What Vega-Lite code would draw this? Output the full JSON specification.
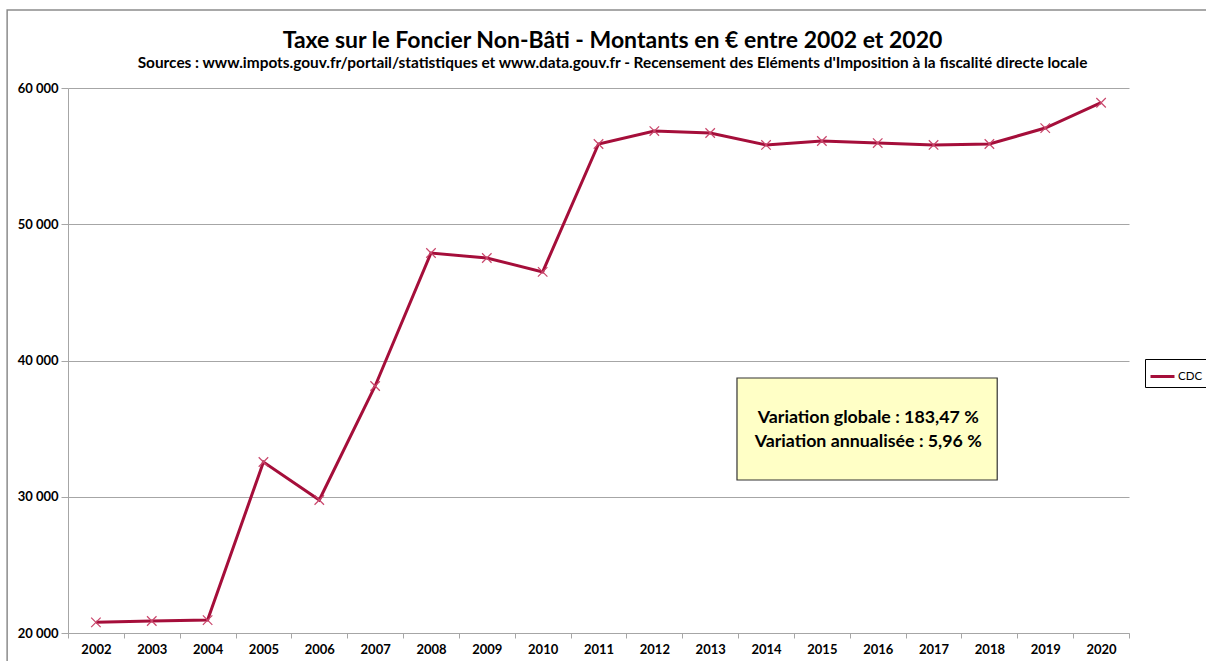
{
  "$schema": "https://vega.github.io/schema/vega-lite/v6.json",
  "width": 1061,
  "height": 545,
  "autosize": {"type": "none"},
  "padding": {"left": 68, "top": 88, "right": 77, "bottom": 28},
  "background": "white",
  "title": {
    "text": "Taxe sur le Foncier Non-Bâti - Montants en € entre 2002 et 2020",
    "subtitle": "Sources : www.impots.gouv.fr/portail/statistiques et www.data.gouv.fr - Recensement des Eléments d'Imposition à la fiscalité directe locale",
    "frame": "group",
    "font": "Lato",
    "fontSize": 23,
    "fontWeight": "bold",
    "color": "black",
    "subtitleFont": "Lato",
    "subtitleFontSize": 15.4,
    "subtitleFontWeight": "bold",
    "subtitleColor": "black",
    "subtitlePadding": 3,
    "anchor": "middle",
    "dx": 14,
    "offset": -62
  },
  "config": {
    "view": {"stroke": null},
    "font": "Lato"
  },
  "datasets": {
    "serie": [
      {"annee": "2002", "montant": 20780},
      {"annee": "2003", "montant": 20880},
      {"annee": "2004", "montant": 20950},
      {"annee": "2005", "montant": 32550},
      {"annee": "2006", "montant": 29760},
      {"annee": "2007", "montant": 38130},
      {"annee": "2008", "montant": 47890},
      {"annee": "2009", "montant": 47520},
      {"annee": "2010", "montant": 46500},
      {"annee": "2011", "montant": 55890},
      {"annee": "2012", "montant": 56840},
      {"annee": "2013", "montant": 56700},
      {"annee": "2014", "montant": 55820},
      {"annee": "2015", "montant": 56110},
      {"annee": "2016", "montant": 55960},
      {"annee": "2017", "montant": 55820},
      {"annee": "2018", "montant": 55890},
      {"annee": "2019", "montant": 57060},
      {"annee": "2020", "montant": 58920}
    ],
    "cadre": [
      {"x0": 2000.41, "x1": 2024, "y0": 14000, "y1": 65725}
    ],
    "encadre": [
      {"x0": 2013.48, "x1": 2018.14, "y0": 31229, "y1": 38716}
    ],
    "textes": [
      {"x": 2015.83, "y": 35800, "texte": "Variation globale : 183,47 %"},
      {"x": 2015.83, "y": 34030, "texte": "Variation annualisée : 5,96 %"}
    ]
  },
  "layer": [
    {
      "layer": [
        {
          "data": {"name": "cadre"},
          "mark": {"type": "rect", "fill": null, "stroke": "#8c8c8c", "strokeWidth": 1.5, "clip": false},
          "encoding": {
            "x": {"field": "x0", "type": "quantitative", "scale": {"domain": [2001.5, 2020.5], "zero": false, "nice": false}, "axis": null},
            "x2": {"field": "x1"},
            "y": {"field": "y0", "type": "quantitative"},
            "y2": {"field": "y1"}
          }
        },
        {
          "data": {"name": "encadre"},
          "mark": {"type": "rect", "fill": "#FFFFC6", "stroke": "#333333", "strokeWidth": 1.2},
          "encoding": {
            "x": {"field": "x0", "type": "quantitative", "axis": null},
            "x2": {"field": "x1"},
            "y": {"field": "y0", "type": "quantitative"},
            "y2": {"field": "y1"}
          }
        },
        {
          "data": {"name": "textes"},
          "mark": {"type": "text", "font": "Lato", "fontSize": 17.8, "fontWeight": "bold", "color": "black", "align": "center", "baseline": "middle"},
          "encoding": {
            "x": {"field": "x", "type": "quantitative", "axis": null},
            "y": {"field": "y", "type": "quantitative"},
            "text": {"field": "texte"}
          }
        }
      ]
    },
    {
      "data": {"name": "serie"},
      "layer": [
        {
          "mark": {"type": "line", "strokeWidth": 3, "interpolate": "linear"},
          "encoding": {
            "x": {
              "field": "annee",
              "type": "ordinal",
              "bandPosition": 0.5,
              "scale": {"type": "band", "paddingInner": 0, "paddingOuter": 0},
              "axis": {
                "title": null,
                "labelAngle": 0,
                "tickBand": "extent",
                "domainColor": "#a6a6a6",
                "tickColor": "#a6a6a6",
                "tickSize": 5,
                "labelFont": "Lato",
                "labelFontSize": 13,
                "labelFontWeight": "bold",
                "labelColor": "black",
                "labelPadding": 5,
                "grid": false
              }
            },
            "y": {
              "field": "montant",
              "type": "quantitative",
              "scale": {"domain": [20000, 60000], "nice": false, "zero": false},
              "axis": {
                "title": null,
                "values": [20000, 30000, 40000, 50000, 60000],
                "labelExpr": "replace(format(datum.value, ','), ',', ' ')",
                "domainColor": "#a6a6a6",
                "tickColor": "#a6a6a6",
                "gridColor": "#a6a6a6",
                "gridWidth": 1,
                "tickSize": 7,
                "labelPadding": 3,
                "labelFont": "Lato",
                "labelFontSize": 13,
                "labelFontWeight": "bold",
                "labelColor": "black"
              }
            },
            "color": {
              "datum": "CDC",
              "type": "nominal",
              "scale": {"range": ["#A50E3A"]},
              "legend": {
                "title": null,
                "orient": "none",
                "legendX": 1077,
                "legendY": 271,
                "strokeColor": "black",
                "padding": 4,
                "symbolType": "stroke",
                "symbolStrokeWidth": 3,
                "symbolSize": 576,
                "labelFont": "Lato",
                "labelFontSize": 11.5,
                "labelColor": "black",
                "labelOffset": 2
              }
            }
          }
        },
        {
          "mark": {"type": "point", "shape": "M-1,-1L1,1M-1,1L1,-1", "filled": false, "size": 90, "strokeWidth": 1.2, "color": "#C9466B", "opacity": 1},
          "encoding": {
            "x": {"field": "annee", "type": "ordinal", "bandPosition": 0.5, "scale": {"type": "band", "paddingInner": 0, "paddingOuter": 0}},
            "y": {"field": "montant", "type": "quantitative"}
          }
        }
      ]
    }
  ],
  "resolve": {"scale": {"x": "independent"}}
}
